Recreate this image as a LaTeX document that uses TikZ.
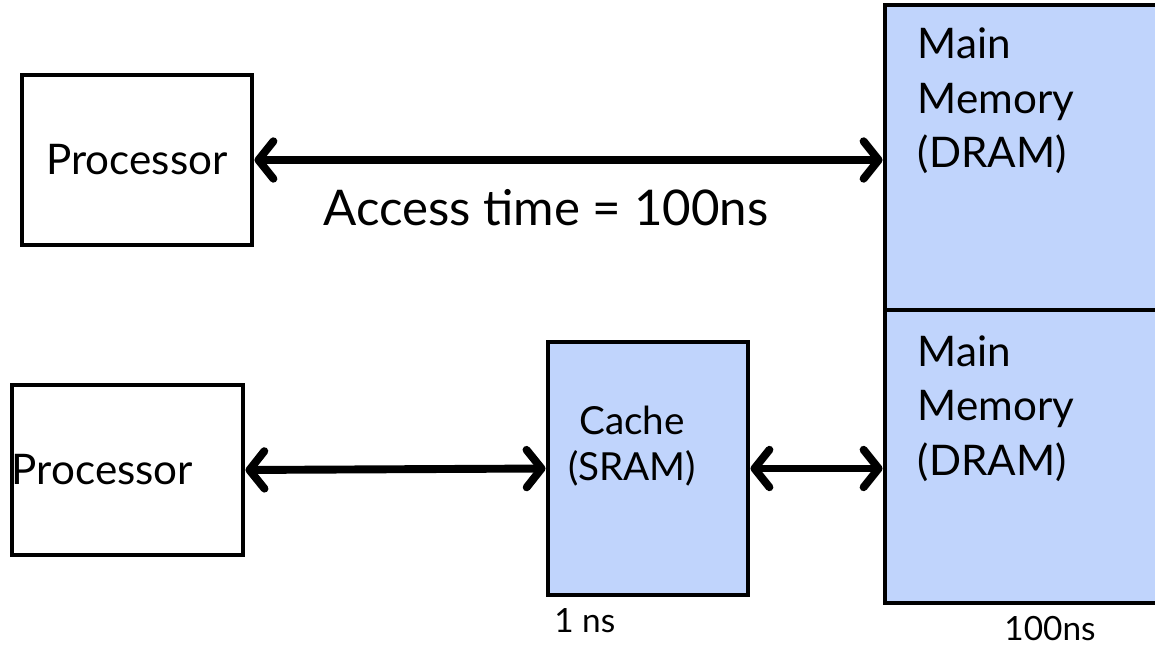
\documentclass[tikz,border=0pt]{standalone}
\usepackage{fontspec}
\setmainfont{Lato}
\usepackage{tikz}
\usetikzlibrary{arrows.meta,positioning}
\definecolor{memblue}{RGB}{192,212,252}

\begin{document}
\begin{tikzpicture}[
    box/.style={draw,line width=2.8pt,font=\fontsize{24}{31}\selectfont},
    membox/.style={box,fill=memblue},
    memtext/.style={align=left,inner sep=0pt,font=\fontsize{24}{31}\selectfont},
    link/.style={line width=4.5pt,line cap=round,
        {Straight Barb[round,length=0.3cm,width=0.75cm]}-{Straight Barb[round,length=0.3cm,width=0.75cm]}},
    note/.style={font=\fontsize{19}{24}\selectfont}
]
    \useasboundingbox (0,0) rectangle (23.1,12.96);
    % without a cache
    \node[box,minimum width=4.6cm,minimum height=3.4cm] (proc1) at (2.74,9.76) {Processor};
    \node[membox,minimum width=5.6cm,minimum height=6.1cm] (mem1) at (20.5,9.81) {};
    \node[memtext,below right=0.5cm and 0.7cm of mem1.north west] (mem1text) {Main\\Memory\\(DRAM)};
    \draw[link] (proc1.east) -- (proc1.east -| mem1.west)
        node[midway,below=0.4cm,xshift=-0.45cm,font=\fontsize{28}{30}\selectfont] (acc) {Access time = 100ns};

    % with a cache
    \node[box,minimum width=4.62cm,minimum height=3.4cm,text width=4.62cm,inner sep=0pt] (proc2) at (2.55,3.56) {Processor};
    \node[membox,minimum width=4cm,minimum height=5.06cm] (cache) at (12.96,3.59) {};
    \node[align=center,inner sep=0pt,font=\fontsize{22}{26}\selectfont] (cachetext) at ([xshift=-0.32cm,yshift=0.45cm]cache.center) {Cache\\(SRAM)};
    \node[membox,minimum width=5.6cm,minimum height=5.86cm] (mem2) at (20.5,3.83) {};
    \node[memtext,below right=0.55cm and 0.7cm of mem2.north west] (mem2text) {Main\\Memory\\(DRAM)};
    \draw[link] (proc2.east) -- (cache.west);
    \draw[link] (cache.east) -- (mem2.west |- cache.east);

    \node[note,below right=0.1cm and 0.05cm of cache.south west] (cachetime) {1 ns};
    \node[note,below=0.1cm of mem2.south,xshift=0.5cm] (memtime) {100ns};
\end{tikzpicture}
\end{document}
